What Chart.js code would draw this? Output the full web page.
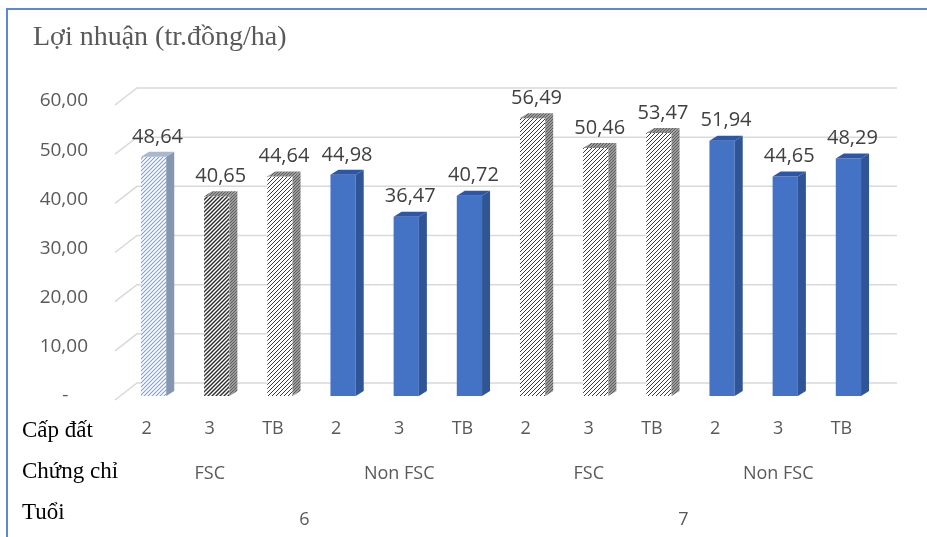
<!DOCTYPE html>
<html>
<head>
<meta charset="utf-8">
<script src="https://cdn.jsdelivr.net/npm/chart.js@4.4.0/dist/chart.umd.min.js"></script>
<style>
  html, body { margin: 0; padding: 0; background: #fff; }
  #wrap { width: 927px; height: 537px; position: relative; }
</style>
</head>
<body>
<div id="wrap"><canvas id="myChart" width="927" height="537"></canvas></div>
<script>
// dữ liệu
const capDat = ['2', '3', 'TB', '2', '3', 'TB', '2', '3', 'TB', '2', '3', 'TB'];
const chungChi = ['FSC', 'Non FSC', 'FSC', 'Non FSC'];
const tuoi = ['6', '7'];
const loiNhuan = [48.64, 40.65, 44.64, 44.98, 36.47, 40.72, 56.49, 50.46, 53.47, 51.94, 44.65, 48.29];
const yMin = 0, yMax = 60, yStep = 10;

const fmt = v => v.toFixed(2).replace('.', ',');

// hoa văn gạch chéo
function hatch(line, bg, size, width) {
	const c = document.createElement('canvas');
	c.width = size; c.height = size;
	const g = c.getContext('2d');
	g.fillStyle = bg;
	g.fillRect(0, 0, size, size);
	g.strokeStyle = line;
	g.lineWidth = width;
	g.beginPath();
	g.moveTo(-1, size + 1); g.lineTo(size + 1, -1);
	g.moveTo(-1, 1); g.lineTo(1, -1);
	g.moveTo(size - 1, size + 1); g.lineTo(size + 1, size - 1);
	g.stroke();
	return g.createPattern(c, 'repeat');
}

const ctx = document.getElementById('myChart').getContext('2d');
const patLight = hatch('#7f9fd6', '#ffffff', 4, 1.1);
const patDense = hatch('#2a2a2a', '#ffffff', 4, 1.4);
const patNorm = hatch('#3a3a3a', '#ffffff', 4, 1);
const patSide = hatch('#5e5e5e', '#9a9a9a', 3, 1);

// màu cho từng cột theo nhóm chứng chỉ
const isFSC = capDat.map((_, i) => chungChi[Math.floor(i / 3)] === 'FSC');
const frontFill = capDat.map((_, i) => {
	if (!isFSC[i]) return '#4472c4';
	if (i === 0) return patLight;
	if (i === 1) return patDense;
	return patNorm;
});
const sideFill = capDat.map((_, i) => !isFSC[i] ? '#2f5597' : (i === 0 ? '#8496b0' : patSide));
const topFill = capDat.map((_, i) => !isFSC[i] ? '#2e56a6' : (i === 0 ? '#aab8cc' : patSide));

const DX = 8, DY = 5;
const LABEL_SHIFT = -7;

const gridPlugin = {
	id: 'grid3d',
	beforeDatasetsDraw(chart) {
		const y = chart.scales.y;
		const area = chart.chartArea;
		const c = chart.ctx;
		c.save();
		c.strokeStyle = '#d9d9d9';
		c.lineWidth = 1.5;
		for (let v = yMin; v <= yMax; v += yStep) {
			const py = y.getPixelForValue(v);
			c.beginPath();
			c.moveTo(area.left - 7, py + 4);
			c.lineTo(area.left + 15, py - 13);
			c.lineTo(897, py - 13);
			c.stroke();
		}
		c.restore();
	}
};

const barPlugin = {
	id: 'bars3d',
	afterDatasetsDraw(chart) {
		const c = chart.ctx;
		const meta = chart.getDatasetMeta(0);
		c.save();
		meta.data.forEach((bar, i) => {
			const p = bar.getProps(['x', 'y', 'base', 'width'], true);
			const l = p.x - p.width / 2, r = p.x + p.width / 2;
			// mặt bên
			c.fillStyle = sideFill[i];
			c.beginPath();
			c.moveTo(r, p.y);
			c.lineTo(r + DX, p.y - DY);
			c.lineTo(r + DX, p.base - DY);
			c.lineTo(r, p.base);
			c.closePath();
			c.fill();
			// mặt trên
			c.fillStyle = topFill[i];
			c.beginPath();
			c.moveTo(l, p.y);
			c.lineTo(l + DX, p.y - DY);
			c.lineTo(r + DX, p.y - DY);
			c.lineTo(r, p.y);
			c.closePath();
			c.fill();
			// nhãn giá trị
			c.fillStyle = '#404040';
			c.font = '20px "Open Sans"';
			c.textAlign = 'center';
			c.textBaseline = 'bottom';
			c.fillText(fmt(loiNhuan[i]), p.x + DX / 2, p.y - DY - 5);
		});
		c.restore();
	}
};

const labelPlugin = {
	id: 'extraLabels',
	afterDraw(chart) {
		const c = chart.ctx;
		const x = chart.scales.x;
		c.save();
		// viền khung
		c.strokeStyle = '#5a8ad1';
		c.lineWidth = 2;
		c.beginPath();
		c.moveTo(7, 537);
		c.lineTo(7, 9);
		c.lineTo(927, 9);
		c.stroke();
		// tiêu đề
		c.fillStyle = '#595959';
		c.font = '28px "Liberation Serif"';
		c.textBaseline = 'middle';
		c.fillText('Lợi nhuận (tr.đồng/ha)', 33, 38);
		// tên các hàng
		c.fillStyle = '#000';
		c.font = '23px "Liberation Serif"';
		c.fillText('Cấp đất', 22, 431);
		c.fillText('Chứng chỉ', 22, 472);
		c.fillText('Tuổi', 22, 513);
		// nhãn nhóm
		c.fillStyle = '#595959';
		c.font = '18px "Open Sans"';
		c.textAlign = 'center';
		chungChi.forEach((t, g) => {
			const cx = (x.getPixelForValue(g * 3) + x.getPixelForValue(g * 3 + 2)) / 2 + LABEL_SHIFT;
			c.fillText(t, cx, 474);
		});
		tuoi.forEach((t, g) => {
			const cx = (x.getPixelForValue(g * 6) + x.getPixelForValue(g * 6 + 5)) / 2 + LABEL_SHIFT;
			c.fillText(t, cx, 520);
		});
		c.restore();
	}
};

const myChart = new Chart(ctx, {
	type: 'bar',
	data: {
		labels: capDat,
		datasets: [{
			data: loiNhuan,
			backgroundColor: frontFill,
			borderWidth: 0,
			barPercentage: 0.5,
			categoryPercentage: 0.8
		}]
	},
	options: {
		responsive: false,
		animation: false,
		layout: { padding: { top: 101, right: 47, left: 0, bottom: 0 } },
		plugins: {
			legend: { display: false },
			tooltip: { enabled: false },
			title: { display: false }
		},
		scales: {
			x: {
				grid: { display: false, drawTicks: false },
				border: { display: false },
				ticks: {
					color: '#595959',
					font: { family: 'Open Sans', size: 18 },
					padding: 22,
					labelOffset: LABEL_SHIFT,
					maxRotation: 0
				},
				afterFit(scale) { scale.height = 141; }
			},
			y: {
				min: yMin,
				max: yMax,
				grid: { display: false, drawTicks: false },
				border: { display: false },
				ticks: {
					stepSize: yStep,
					color: '#595959',
					font: { family: 'Open Sans', size: 19 },
					padding: 34,
					callback: v => v === 0 ? '-    ' : fmt(v)
				},
				afterFit(scale) { scale.width = 122; }
			}
		}
	},
	plugins: [gridPlugin, barPlugin, labelPlugin]
});
</script>
</body>
</html>
